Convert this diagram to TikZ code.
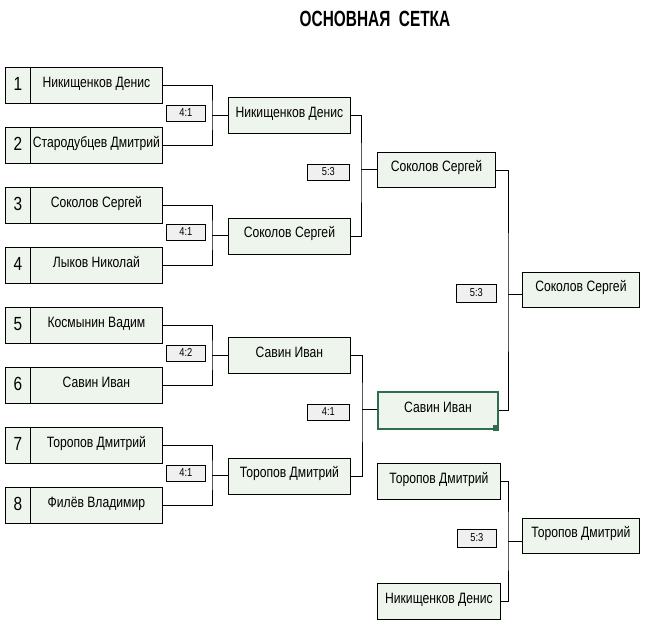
\documentclass[tikz,border=0pt]{standalone}
\usepackage{fontspec}
\setmainfont{Liberation Sans}
\newfontfamily\namefont[FakeStretch=0.81]{Liberation Sans}
\newfontfamily\titlefont[FakeStretch=0.7]{Liberation Sans}
\definecolor{boxfill}{HTML}{EEF5EC}
\definecolor{scorefill}{HTML}{F0F0F0}
\definecolor{selgreen}{HTML}{2E6D4F}
\tikzset{
  base box/.style={draw=black, line width=0.8pt, fill=boxfill, inner sep=0pt, anchor=north west, minimum height=36pt, text height=11pt, text depth=7pt},
  r1box/.style={base box, minimum width=132pt, font=\namefont\fontsize{15}{15}\selectfont},
  numbox/.style={base box, minimum width=25pt, text height=14pt, text depth=4pt, font=\namefont\fontsize{19}{19}\selectfont},
  r2box/.style={base box, minimum width=122pt, font=\namefont\fontsize{15}{15}\selectfont},
  r3box/.style={base box, font=\namefont\fontsize{15}{15}\selectfont},
  scorebox/.style={draw=black, line width=0.7pt, fill=scorefill, inner sep=0pt, anchor=north west, minimum height=16pt, text height=8pt, text depth=1pt, font=\namefont\fontsize{11.5}{11.5}\selectfont},
  link/.style={draw=black, line width=0.8pt},
  titlestyle/.style={font=\titlefont\bfseries\fontsize{22}{22}\selectfont, anchor=base, inner sep=0pt}
}
\begin{document}
\begin{tikzpicture}[x=1pt,y=-1pt]
\useasboundingbox (0,0) rectangle (654,627);
\node[titlestyle] (title) at (375,26) {ОСНОВНАЯ\ \ СЕТКА};
% round 1
\foreach \k/\nm in {1/Никищенков Денис,2/Стародубцев Дмитрий,3/Соколов Сергей,4/Лыков Николай,5/Космынин Вадим,6/Савин Иван,7/Торопов Дмитрий,8/Филёв Владимир}{
  \pgfmathsetmacro{\tp}{67+60*(\k-1)}
  \node[numbox] (n\k) at (5,\tp) {\k};
  \node[r1box] (p\k) at (30,\tp) {\nm};
}
% round 1 scores
\node[scorebox, minimum width=39pt] (sc1) at (166,105) {4:1};
\node[scorebox, minimum width=39pt] (sc2) at (166,224) {4:1};
\node[scorebox, minimum width=39pt] (sc3) at (166,345) {4:2};
\node[scorebox, minimum width=39pt] (sc4) at (166,465) {4:1};
% round 2
\node[r2box] (q1) at (228,97) {Никищенков Денис};
\node[r2box] (q2) at (228,217.5) {Соколов Сергей};
\node[r2box] (q3) at (228,337) {Савин Иван};
\node[r2box] (q4) at (228,457.5) {Торопов Дмитрий};
% round 2 scores
\node[scorebox, minimum width=42pt] (sc5) at (307,164) {5:3};
\node[scorebox, minimum width=42pt] (sc6) at (307,404) {4:1};
% round 3
\node[r3box, minimum width=118pt, minimum height=35pt] (s1) at (377,152) {Соколов Сергей};
\node[r3box, minimum width=120pt, minimum height=37pt, draw=selgreen, line width=2pt] (s2) at (377,390.5) {Савин Иван};
\fill[selgreen] (493,425) rectangle (498.5,430.5);
\node[r3box, minimum width=123pt] (s3) at (377,463) {Торопов Дмитрий};
\node[r3box, minimum width=123pt] (s4) at (377,583) {Никищенков Денис};
% final scores
\node[scorebox, minimum width=40pt, minimum height=18pt] (sc7) at (456,284) {5:3};
\node[scorebox, minimum width=39pt, minimum height=18pt] (sc8) at (457,529) {5:3};
% finals
\node[r3box, minimum width=117pt, minimum height=35pt] (f1) at (522,272) {Соколов Сергей};
\node[r3box, minimum width=117pt, minimum height=35pt] (f2) at (522,518) {Торопов Дмитрий};
% connectors round 1
\coordinate (a1) at (212,115);
\coordinate (a2) at (212,235);
\coordinate (a3) at (212,355);
\coordinate (a4) at (212,475);
\draw[link] (p1.east) -| (a1) |- (p2.east); \draw[link] (a1) -- (a1 -| q1.west);
\draw[link] (p3.east) -| (a2) |- (p4.east); \draw[link] (a2) -- (a2 -| q2.west);
\draw[link] (p5.east) -| (a3) |- (p6.east); \draw[link] (a3) -- (a3 -| q3.west);
\draw[link] (p7.east) -| (a4) |- (p8.east); \draw[link] (a4) -- (a4 -| q4.west);
% connectors round 2
\coordinate (b1) at (361,169.5);
\coordinate (b2) at (362,409);
\draw[link] (q1.east) -| (b1) |- (q2.east); \draw[link] (b1) -- (b1 -| s1.west);
\draw[link] (q3.east) -| (b2) |- (q4.east); \draw[link] (b2) -- (b2 -| s2.west);
% connectors round 3
\coordinate (c1) at (508,294);
\coordinate (c2) at (508,541);
\draw[link] (s1.east) -| (c1) |- (s2.east); \draw[link] (c1) -- (c1 -| f1.west);
\draw[link] (s3.east) -| (c2) |- (s4.east); \draw[link] (c2) -- (c2 -| f2.west);
\end{tikzpicture}
\end{document}
